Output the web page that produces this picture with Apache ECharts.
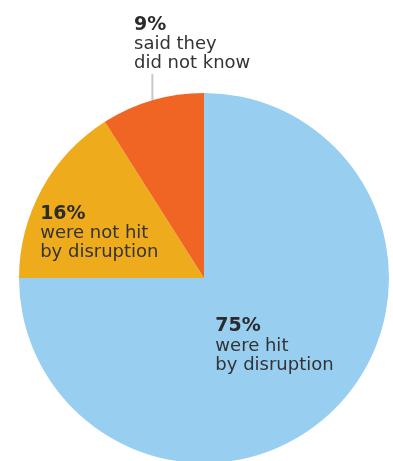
<!DOCTYPE html>
<html>
<head>
<meta charset="utf-8">
<script src="https://cdn.jsdelivr.net/npm/echarts@6/dist/echarts.min.js"></script>
<style>
  html, body { margin: 0; padding: 0; background: #fff; }
  #chart { width: 393px; height: 461px; }
</style>
</head>
<body>
<div id="chart"></div>
<script>
var answers = ['were hit\nby disruption', 'were not hit\nby disruption', 'said they\ndid not know'];
var shares = [75, 16, 9];
var colors = ['#98CEF0', '#EEAC1C', '#F06424'];

(function () {
  var myChart = echarts.init(document.getElementById('chart'));

  var data = shares.map(function (v, i) {
    return { name: answers[i], value: v, itemStyle: { color: colors[i] } };
  });

  var option = {
    animation: false,
    series: [{
      type: 'pie',
      center: [204, 278],
      radius: 185,
      startAngle: 90,
      clockwise: true,
      silent: true,
      data: data,
      itemStyle: { borderWidth: 0 },
      label: {
        position: 'inside',
        overflow: 'none',
        formatter: function (p) {
          return '{p|' + p.value + '%}\n{t|' + p.name + '}';
        },
        rich: {
          p: { fontFamily: 'DejaVu Sans', fontWeight: 'bold', fontSize: 19, lineHeight: 20, color: '#2b2b2b', align: 'left' },
          t: { fontFamily: 'DejaVu Sans', fontSize: 18, lineHeight: 19, color: '#333', align: 'left' }
        }
      },
      labelLine: {
        show: true,
        lineStyle: { color: '#c8c8c8', width: 2 }
      },
      labelLayout: function (params) {
        if (params.dataIndex === 0) {
          return { dx: 3, dy: 0 };
        }
        if (params.dataIndex === 1) {
          return { dx: -21, dy: 1 };
        }
        // the small slice gets its text above the pie with a straight vertical leader
        var pts = params.labelLinePoints;
        var start = pts ? pts[0] : [151, 100];
        return {
          x: 134,
          y: 73,
          align: 'left',
          verticalAlign: 'bottom',
          labelLinePoints: [start, [start[0], 74], [start[0], 74]]
        };
      }
    }]
  };

  // the small slice label sits outside
  option.series[0].data[2].label = { position: 'outside', overflow: 'none', width: 200 };

  myChart.setOption(option);
  window.addEventListener('resize', function () {
    myChart.resize();
  });
})();
</script>
</body>
</html>
